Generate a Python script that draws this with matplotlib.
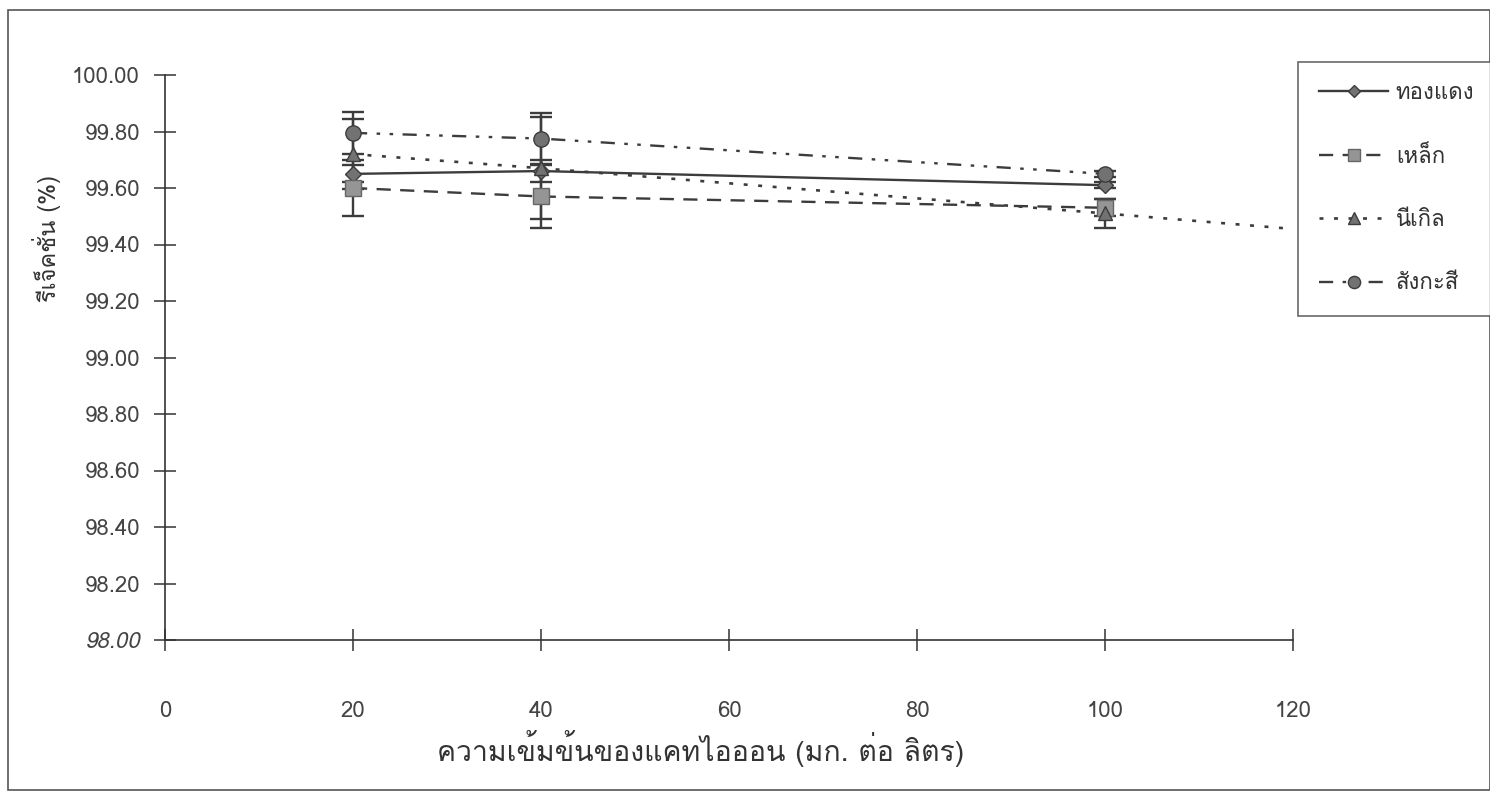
import matplotlib
matplotlib.use('Agg')
import matplotlib.pyplot as plt
from matplotlib import font_manager as fm
from matplotlib.ft2font import FT2Font
from matplotlib.patches import Rectangle

# find an installed font that has Thai glyphs
thai_font = None
for f in fm.fontManager.ttflist:
    try:
        if 0x0E01 in FT2Font(f.fname).get_charmap():
            thai_font = f.name
            break
    except Exception:
        pass
families = [thai_font, 'DejaVu Sans'] if thai_font else ['DejaVu Sans']
plt.rcParams['font.family'] = families

conc = [20, 40, 100]
conc_ni = [20, 40, 100, 120]

copper = [99.65, 99.66, 99.61]
copper_err = [0.03, 0.04, 0.01]
iron = [99.60, 99.57, 99.53]
iron_err = [0.10, 0.11, 0.03]
nickel = [99.72, 99.67, 99.51, 99.455]
nickel_err = [0.125, 0.18, 0.05]
zinc = [99.795, 99.775, 99.65]
zinc_err = [0.075, 0.09, 0.01]

labels = ['ทองแดง', 'เหล็ก', 'นีเกิล', 'สังกะสี']
yticks = [98.00, 98.20, 98.40, 98.60, 98.80, 99.00, 99.20, 99.40, 99.60, 99.80, 100.00]
xticks = [0, 20, 40, 60, 80, 100, 120]

fig = plt.figure(figsize=(14.9, 7.96), dpi=100)
ax = fig.add_axes([165 / 1490, 1 - 640 / 796, 1128 / 1490, 565 / 796])

lc = '#3c3c3c'
mfc = '#727272'
ekw = dict(fmt='none', ecolor=lc, elinewidth=1.7, capsize=8, capthick=1.7)

ax.errorbar(conc, copper, yerr=copper_err, **ekw)
ax.errorbar(conc, iron, yerr=iron_err, **ekw)
ax.errorbar(conc, nickel[:3], yerr=nickel_err, **ekw)
ax.errorbar(conc, zinc, yerr=zinc_err, **ekw)

l1, = ax.plot(conc, copper, color=lc, lw=1.7, ls='-', marker='D', ms=8,
              mfc=mfc, mec=lc)
l2, = ax.plot(conc, iron, color=lc, lw=1.7, ls=(0, (6, 4)), marker='s', ms=11,
              mfc='#959595', mec='#666666')
l3, = ax.plot(conc_ni, nickel, color=lc, lw=1.9, ls=(0, (1.5, 4)), marker='^',
              ms=10, mfc=mfc, mec=lc, markevery=[0, 1, 2])
l4, = ax.plot(conc, zinc, color=lc, lw=1.7, ls=(0, (6, 4, 1.5, 4, 1.5, 4)),
              marker='o', ms=11, mfc=mfc, mec=lc)

ax.set_xlim(0, 120)
ax.set_ylim(98.0, 100.0)
ax.set_xticks(xticks)
ax.set_yticks(yticks)
ax.set_yticklabels(['%.2f' % v for v in yticks])
ax.get_yticklabels()[0].set_style('italic')

for s in ['top', 'right']:
    ax.spines[s].set_visible(False)
for s in ['left', 'bottom']:
    ax.spines[s].set_color('#333333')
    ax.spines[s].set_linewidth(1.2)

ax.tick_params(axis='both', direction='inout', length=16, width=1.1,
               color='#333333', labelcolor='#444444', labelsize=16)
ax.tick_params(axis='x', pad=36)
ax.tick_params(axis='y', pad=10)

ax.set_ylabel('รีเจ็คชั่น (%)', fontsize=17, color='#333333')
ax.yaxis.set_label_coords(-0.092, 0.71)
ax.set_xlabel('ความเข้มข้นของแคทไอออน (มก. ต่อ ลิตร)', fontsize=20.5, color='#333333')
ax.xaxis.set_label_coords(0.475, -0.16)

leg = fig.legend([l1, l2, l3, l4], labels, loc='upper left',
                 bbox_to_anchor=(1298 / 1490, 1 - 62 / 796),
                 fontsize=16, frameon=True, fancybox=False, handlelength=3.1,
                 labelspacing=1.9, borderpad=0.95, handletextpad=0.35,
                 borderaxespad=0, markerscale=0.8)
leg.get_frame().set_edgecolor('#444444')
leg.get_frame().set_linewidth(1.2)
for t in leg.get_texts():
    t.set_color('#333333')

fig.patches.append(Rectangle((8 / 1490, 6 / 796), 1 - 8 / 1490, 1 - 16 / 796,
                             transform=fig.transFigure, fill=False,
                             edgecolor='#555555', lw=1.2))

fig.savefig('out.png', dpi=100)
